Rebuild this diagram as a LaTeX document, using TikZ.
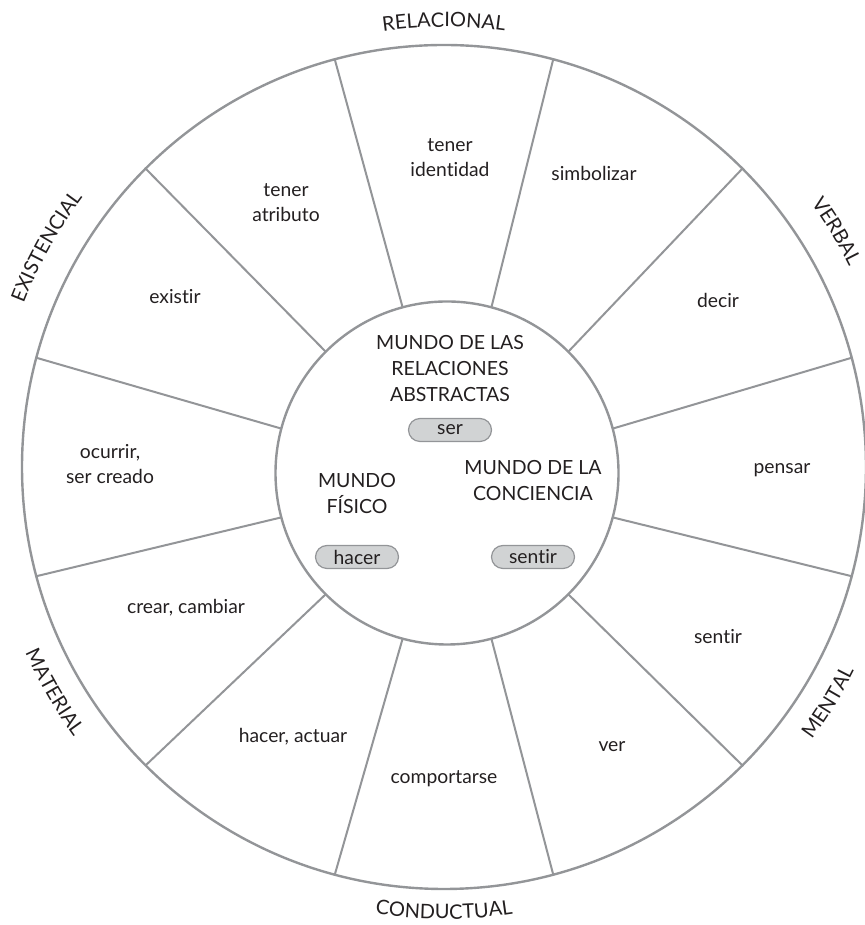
\documentclass[tikz,border=0pt]{standalone}
\usepackage{fontspec}
\setmainfont{Lato}[Ligatures=NoCommon]
\usetikzlibrary{calc,decorations.text}
\definecolor{rimgray}{HTML}{939598}
\definecolor{pillfill}{HTML}{D1D3D4}
\definecolor{inktext}{HTML}{231F20}
\newcommand\wheelfont{\fontsize{19.3}{25}\selectfont}
\newcommand\worldfont{\fontsize{19.5}{26}\selectfont}
\newcommand\catfont{\fontsize{20}{20}\selectfont}

\begin{document}
\begin{tikzpicture}[x=1pt,y=1pt,
  rim/.style={draw=rimgray, line width=2.4pt},
  spoke/.style={draw=rimgray, line width=2pt},
  sector/.style={text=inktext, font=\wheelfont, align=center, inner sep=0pt},
  world/.style={text=inktext, font=\worldfont, align=center, inner sep=0pt},
  pill/.style={draw=rimgray, fill=pillfill, line width=1.2pt, rounded corners=11.5pt,
    minimum width=83pt, minimum height=23pt, inner sep=0pt, text=inktext, font=\wheelfont},
  arclabel/.style={decorate, decoration={text along path, text align=center, text color=inktext}}
]
\useasboundingbox (0,0) rectangle (864,925);

% wheel: outer rim, hub and twelve spokes
\coordinate (O) at (444,458);
\coordinate (I) at (447,452);
\draw[rim] (O) circle[radius=422pt];
\draw[rim] (I) circle[radius=171.5pt];
\foreach \a in {15,45,...,345}
  \draw[spoke] ($(I)+(\a:171.5pt)$) -- ($(O)+(\a:422pt)$);

% process types written around the rim
\path[arclabel, decoration={text={|\catfont|RELACIONAL}}]
  (O) ++(115:440pt) arc[start angle=115, end angle=65, radius=440pt];
\path[arclabel, decoration={text={|\catfont|VERBAL}}]
  (O) ++(56:452pt) arc[start angle=56, end angle=6, radius=452pt];
\path[arclabel, decoration={text={|\catfont|EXISTENCIAL}}]
  (O) ++(176:451pt) arc[start angle=176, end angle=126, radius=451pt];
\path[arclabel, decoration={text={|\catfont|MENTAL}}]
  (O) ++(-56.5:458pt) arc[start angle=-56.5, end angle=-6.5, radius=458pt];
\path[arclabel, decoration={text={|\catfont|MATERIAL}}]
  (O) ++(-175:458pt) arc[start angle=-175, end angle=-125, radius=458pt];
\path[arclabel, decoration={text={|\catfont|CONDUCTUAL}}]
  (O) ++(-115:452pt) arc[start angle=-115, end angle=-65, radius=452pt];

% sector labels
\node[sector] (identidad) at (450,767) {tener\\identidad};
\node[sector] (simbolizar) at (594,752) {simbolizar};
\node[sector] (decir) at (718,625) {decir};
\node[sector] (pensar) at (782,455) {pensar};
\node[sector] (sentir2) at (718,288) {sentir};
\node[sector] (ver) at (612,178) {ver};
\node[sector] (comportarse) at (444,146) {comportarse};
\node[sector] (actuar) at (293,188) {hacer, actuar};
\node[sector] (cambiar) at (186,317) {crear, cambiar};
\node[sector] (ocurrir) at (110,461) {ocurrir,\\ser creado};
\node[sector] (existir) at (175,628) {existir};
\node[sector] (atributo) at (286,722) {tener\\atributo};

% the three worlds in the hub
\node[world] (abstractas) at (450,556) {MUNDO DE LAS\\RELACIONES\\ABSTRACTAS};
\node[pill] (ser) at (450,495) {ser};
\node[world] (fisico) at (357,431.5) {MUNDO\\FÍSICO};
\node[world] (conciencia) at (533,444.5) {MUNDO DE LA\\CONCIENCIA};
\node[pill] (hacer) at (357,368) {hacer};
\node[pill] (sentir) at (533,368) {sentir};
\end{tikzpicture}
\end{document}
